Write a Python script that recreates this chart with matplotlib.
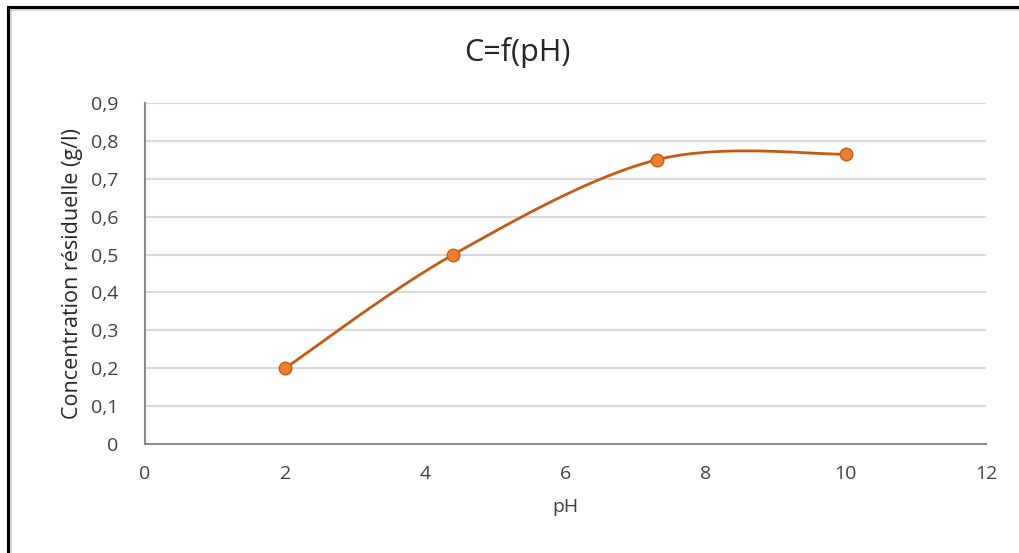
import numpy as np
import matplotlib
matplotlib.use('Agg')
import matplotlib.pyplot as plt
from matplotlib.lines import Line2D
from matplotlib.ticker import FuncFormatter

# pH values and residual concentration (g/l)
ph = [2.0, 4.4, 7.3, 10.0]
conc = [0.20, 0.50, 0.75, 0.765]

LINE_COLOR = '#C55A11'
MARKER_COLOR = '#ED7D31'
GRID_COLOR = '#D9D9D9'
AXIS_COLOR = '#8C8C8C'
TEXT_COLOR = '#404040'

plt.rcParams['font.family'] = ['Open Sans', 'DejaVu Sans']


def smooth_curve(x, y, n=60):
    # Catmull-Rom style Bezier through the points (spreadsheet "smoothed line")
    pts = np.column_stack([x, y]).astype(float)
    ext = np.vstack([pts[0], pts, pts[-1]])
    out = []
    t = np.linspace(0, 1, n)[:, None]
    for i in range(1, len(ext) - 2):
        p0, p1, p2, p3 = ext[i - 1], ext[i], ext[i + 1], ext[i + 2]
        c1 = p1 + (p2 - p0) / 6
        c2 = p2 - (p3 - p1) / 6
        seg = ((1 - t) ** 3) * p1 + 3 * ((1 - t) ** 2) * t * c1 \
            + 3 * (1 - t) * t ** 2 * c2 + t ** 3 * p2
        out.append(seg if i == 1 else seg[1:])
    seg = np.vstack(out)
    return seg[:, 0], seg[:, 1]


fig = plt.figure(figsize=(10.19, 5.53), dpi=100)
ax = fig.add_axes([145 / 1019, 1 - 444 / 553, (986 - 145) / 1019, (444 - 103) / 553])

sx, sy = smooth_curve(ph, conc)
ax.plot(sx, sy, color=LINE_COLOR, linewidth=2.0, zorder=3, solid_capstyle='round')
ax.plot(ph, conc, linestyle='none', marker='o', markersize=9,
        markerfacecolor=MARKER_COLOR, markeredgecolor=LINE_COLOR,
        markeredgewidth=1.0, zorder=4)

ax.set_xlim(0, 12)
ax.set_ylim(0, 0.9)
ax.set_xticks(np.arange(0, 13, 2))
ax.set_yticks(np.arange(0, 0.91, 0.1))
ax.yaxis.set_major_formatter(FuncFormatter(
    lambda v, p: '0' if abs(v) < 1e-9 else f'{v:.1f}'.replace('.', ',')))

ax.grid(axis='y', color=GRID_COLOR, linewidth=1.5)
ax.set_axisbelow(True)
ax.tick_params(length=0, labelsize=14, colors=TEXT_COLOR)
ax.tick_params(axis='x', pad=15)
ax.tick_params(axis='y', pad=19)

for side in ['top', 'right']:
    ax.spines[side].set_visible(False)
for side in ['left', 'bottom']:
    ax.spines[side].set_color(AXIS_COLOR)
    ax.spines[side].set_linewidth(1.5)

fig.text(517 / 1019, 1 - 52 / 553, 'C=f(pH)', fontsize=22, color='#262626',
         ha='center', va='center')
ax.set_xlabel('pH', fontsize=14, color=TEXT_COLOR, labelpad=11)
ax.set_ylabel('Concentration résiduelle (g/l)', fontsize=15.5, color='#262626', labelpad=6)

# frame edges of the chart object (top and left only)
fig.add_artist(Line2D([8 / 1019, 1], [1 - 7 / 553, 1 - 7 / 553], color='black', linewidth=2.2))
fig.add_artist(Line2D([8 / 1019, 8 / 1019], [0, 1 - 7 / 553], color='black', linewidth=2.2))
fig.add_artist(Line2D([10.5 / 1019, 1], [1 - 9.5 / 553, 1 - 9.5 / 553], color='#CFCFCF', linewidth=1.2))
fig.add_artist(Line2D([10.5 / 1019, 10.5 / 1019], [0, 1 - 9.5 / 553], color='#CFCFCF', linewidth=1.2))

fig.savefig('out.png', dpi=100, facecolor='white')
